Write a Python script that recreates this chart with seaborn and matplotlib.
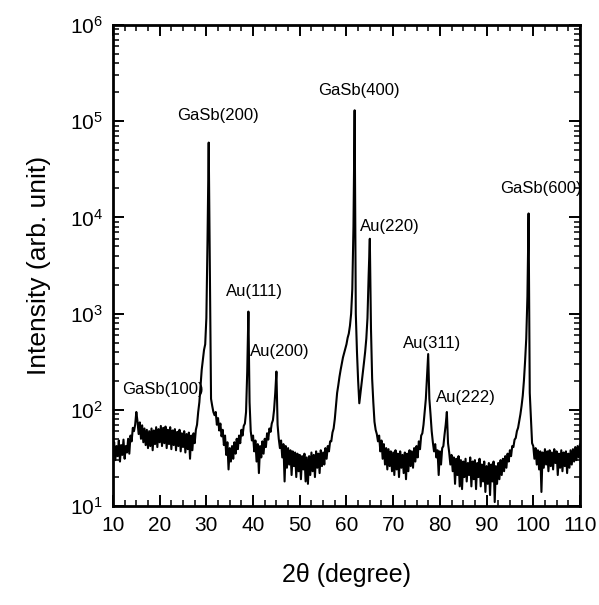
import numpy as np
import pandas as pd
import matplotlib
matplotlib.use('Agg')
import matplotlib.pyplot as plt
import matplotlib.ticker as mticker
import seaborn as sns

# XRD scan: 2theta from 10 to 110 deg, step 0.25 deg
scan_start = 10.0
scan_stop = 110.0
scan_step = 0.25

# Intensity, one list per 10 degrees
i_10_20 = [36, 46, 30, 42, 33, 48, 29, 43, 34, 49, 31, 42, 36, 50, 35, 54, 47, 65, 60, 70,
           95, 76, 56, 74, 50, 69, 46, 64, 43, 62, 40, 60, 42, 64, 38, 61, 44, 66, 41, 63]
i_20_30 = [46, 68, 42, 65, 45, 67, 40, 62, 44, 66, 39, 61, 43, 63, 38, 59, 42, 62, 37, 57,
           41, 60, 36, 56, 39, 58, 31, 54, 38, 57, 45, 62, 70, 95, 120, 180, 260, 330, 420, 480]
i_30_40 = [900, 6000, 60000, 3000, 130, 110, 95, 88, 95, 70, 82, 61, 72, 53, 62, 43, 54, 34, 46, 24,
           40, 29, 42, 31, 46, 35, 50, 39, 54, 45, 62, 54, 68, 72, 95, 250, 1050, 120, 60, 48]
i_40_50 = [54, 37, 48, 29, 44, 22, 42, 32, 47, 35, 50, 41, 57, 49, 64, 59, 72, 78, 100, 150,
           250, 70, 50, 40, 48, 32, 44, 18, 42, 25, 40, 27, 38, 21, 37, 26, 36, 20, 35, 23]
i_50_60 = [34, 19, 33, 24, 35, 18, 32, 17, 33, 21, 36, 23, 34, 20, 37, 25, 35, 22, 38, 26,
           36, 27, 40, 31, 42, 37, 47, 47, 58, 64, 80, 110, 150, 180, 220, 260, 300, 350, 390, 430]
i_60_70 = [480, 560, 620, 750, 1000, 1800, 8000, 130000, 1000, 400, 200, 117, 150, 190, 240, 310, 400, 550, 900, 2500,
           6000, 700, 210, 120, 75, 62, 56, 47, 54, 37, 48, 31, 44, 27, 40, 24, 39, 26, 37, 23]
i_70_80 = [36, 21, 38, 24, 35, 20, 37, 25, 34, 22, 36, 19, 35, 23, 38, 26, 37, 25, 40, 29,
           42, 32, 47, 39, 54, 57, 70, 95, 130, 220, 380, 130, 90, 60, 46, 37, 44, 32, 38, 21]
i_80_90 = [37, 27, 40, 42, 55, 70, 95, 45, 36, 27, 34, 23, 32, 17, 31, 21, 33, 16, 30, 15,
           29, 20, 31, 18, 28, 21, 32, 16, 29, 19, 30, 15, 28, 20, 31, 16, 27, 18, 29, 14]
i_90_100 = [26, 17, 28, 13, 27, 18, 29, 11, 26, 17, 28, 19, 30, 21, 31, 23, 33, 25, 35, 29,
            38, 33, 42, 41, 49, 51, 60, 65, 77, 90, 110, 140, 200, 320, 550, 1500, 11000, 150, 80, 45]
i_100_110 = [42, 31, 40, 27, 38, 24, 37, 14, 36, 25, 39, 27, 37, 23, 38, 26, 36, 24, 39, 28,
             37, 21, 35, 25, 38, 23, 36, 26, 37, 22, 35, 25, 38, 27, 39, 29, 41, 30, 42, 32, 44]

# peak labels and where their text sits (data coords)
peak_labels = ['GaSb(100)', 'GaSb(200)', 'Au(111)', 'Au(200)', 'GaSb(400)',
               'Au(220)', 'Au(311)', 'Au(222)', 'GaSb(600)']
label_x = [20.7, 32.5, 40.4, 45.8, 62.7, 69.3, 78.3, 85.6, 101.6]
label_y = [161, 1.16e5, 1.68e3, 400, 2.1e5, 8.1e3, 490, 135, 2.0e4]

intensity = (i_10_20 + i_20_30 + i_30_40 + i_40_50 + i_50_60 +
             i_60_70 + i_70_80 + i_80_90 + i_90_100 + i_100_110)
two_theta = scan_start + scan_step * np.arange(len(intensity))
df = pd.DataFrame({'two_theta': two_theta, 'intensity': intensity})

sns.set_theme(style='ticks')
plt.rcParams['font.family'] = ['Liberation Sans', 'DejaVu Sans']
plt.rcParams['mathtext.fontset'] = 'custom'
plt.rcParams['mathtext.rm'] = 'Liberation Sans'
plt.rcParams['mathtext.it'] = 'Liberation Sans:italic'
for key in ['text.color', 'axes.labelcolor', 'xtick.color', 'ytick.color',
            'xtick.labelcolor', 'ytick.labelcolor']:
    plt.rcParams[key] = 'black'

fig = plt.figure(figsize=(5.99, 6.05), dpi=100)
ax = fig.add_axes([0.1886, 0.1636, 0.7796, 0.795])

sns.lineplot(data=df, x='two_theta', y='intensity', ax=ax, color='black',
             linewidth=1.5, estimator=None, sort=False)

ax.set_yscale('log')
ax.set_xlim(scan_start, scan_stop)
ax.set_ylim(10, 1e6)

ax.xaxis.set_major_locator(mticker.MultipleLocator(10))
ax.xaxis.set_minor_locator(mticker.MultipleLocator(2.5))
ax.yaxis.set_major_locator(mticker.LogLocator(base=10, numticks=10))
ax.yaxis.set_minor_locator(mticker.LogLocator(base=10, subs=np.arange(2, 10), numticks=20))
ax.yaxis.set_major_formatter(mticker.LogFormatterMathtext())
ax.yaxis.set_minor_formatter(mticker.NullFormatter())

ax.tick_params(which='both', direction='in', top=True, right=True, color='black')
ax.tick_params(which='major', length=8, width=1.4, labelsize=15, pad=7)
ax.tick_params(which='minor', length=4, width=1.1)
for side in ax.spines.values():
    side.set_linewidth(2.0)
    side.set_color('black')

ax.set_xlabel('2θ (degree)', fontsize=18, labelpad=20)
ax.set_ylabel('Intensity (arb. unit)', fontsize=19, labelpad=14)

for txt, lx, ly in zip(peak_labels, label_x, label_y):
    ax.text(lx, ly, txt, ha='center', va='center', fontsize=12, color='black')

ax.grid(False)
fig.savefig('out.png', dpi=100)
